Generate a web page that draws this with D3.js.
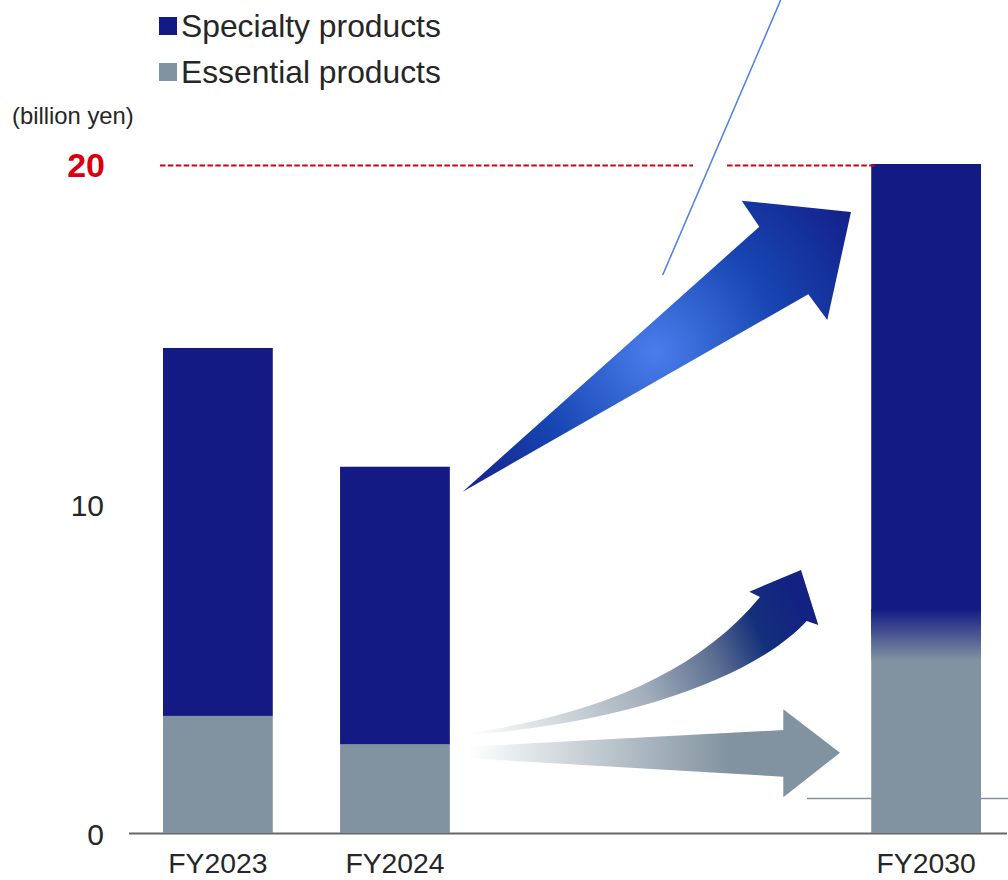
<!DOCTYPE html>
<html>
<head>
<meta charset="utf-8">
<script src="https://cdn.jsdelivr.net/npm/d3@7"></script>
<style>
  body { margin: 0; background: #fff; }
  svg { display: block; font-family: "Liberation Sans", Arial, sans-serif; }
</style>
</head>
<body>
<script>
// Chart values (billion yen)
const categories = ["FY2023", "FY2024", "FY2030"];
const slots = ["FY2023", "FY2024", "gap1", "gap2", "FY2030"];   // two empty slots before FY2030
const essential = [3.5, 2.65, 5.9];
const specialty = [11.0, 8.3, 14.1];
const yTicks = [0, 10];
const target = 20;
const seriesNames = ["Specialty products", "Essential products"];

const colSpecialty = "#131a83";
const colEssential = "#8193a0";
const textCol = "#262626";

const width = 1008, height = 880;

const svg = d3.select("body").append("svg")
    .attr("width", width)
    .attr("height", height);

const x = d3.scaleBand()
    .domain(slots)
    .range([163, 981])
    .paddingInner(0.38)
    .paddingOuter(0);

const y = d3.scaleLinear()
    .domain([0, 20])
    .range([833, 164]);

const defs = svg.append("defs");

// gradients
const gBig = defs.append("radialGradient")
    .attr("id", "gBig")
    .attr("gradientUnits", "userSpaceOnUse")
    .attr("cx", 655).attr("cy", 352).attr("r", 250);
gBig.append("stop").attr("offset", 0).attr("stop-color", "#4a7eec");
gBig.append("stop").attr("offset", 0.5).attr("stop-color", "#1746b2");
gBig.append("stop").attr("offset", 1).attr("stop-color", "#141c86");

const gCurve = defs.append("linearGradient")
    .attr("id", "gCurve")
    .attr("gradientUnits", "userSpaceOnUse")
    .attr("x1", 470).attr("y1", 735).attr("x2", 790).attr("y2", 590);
gCurve.append("stop").attr("offset", 0).attr("stop-color", "#ffffff");
gCurve.append("stop").attr("offset", 0.5).attr("stop-color", "#a3afbb");
gCurve.append("stop").attr("offset", 0.72).attr("stop-color", "#5d6f92");
gCurve.append("stop").attr("offset", 0.87).attr("stop-color", "#13307a");
gCurve.append("stop").attr("offset", 1).attr("stop-color", "#132282");

const gStraight = defs.append("linearGradient")
    .attr("id", "gStraight")
    .attr("gradientUnits", "userSpaceOnUse")
    .attr("x1", 468).attr("y1", 0).attr("x2", 730).attr("y2", 0);
gStraight.append("stop").attr("offset", 0).attr("stop-color", "#ffffff");
gStraight.append("stop").attr("offset", 1).attr("stop-color", colEssential);

const gBlend = defs.append("linearGradient")
    .attr("id", "gBlend")
    .attr("x1", 0).attr("y1", 0).attr("x2", 0).attr("y2", 1);
gBlend.append("stop").attr("offset", 0).attr("stop-color", colSpecialty);
gBlend.append("stop").attr("offset", 1).attr("stop-color", colEssential);

// baseline
svg.append("line")
    .attr("x1", 129).attr("x2", 1007)
    .attr("y1", y(0) + 0.5).attr("y2", y(0) + 0.5)
    .attr("stroke", "#666").attr("stroke-width", 2);

// stacked bars
const rows = categories.map((c, i) => ({ cat: c, ess: essential[i], spec: specialty[i] }));

svg.selectAll(".ess")
    .data(rows)
    .enter()
    .append("rect")
    .attr("class", "ess")
    .attr("x", d => x(d.cat))
    .attr("width", x.bandwidth())
    .attr("y", d => y(d.ess))
    .attr("height", d => y(0) - y(d.ess))
    .attr("fill", colEssential);

svg.selectAll(".spec")
    .data(rows)
    .enter()
    .append("rect")
    .attr("class", "spec")
    .attr("x", d => x(d.cat))
    .attr("width", x.bandwidth())
    .attr("y", d => y(d.ess + d.spec))
    .attr("height", d => y(d.ess) - y(d.ess + d.spec))
    .attr("fill", colSpecialty);

// FY2030 soft boundary between the two segments
const last = rows[2];
svg.append("rect")
    .attr("x", x(last.cat))
    .attr("width", x.bandwidth())
    .attr("y", y(last.ess + 0.8))
    .attr("height", y(last.ess - 0.75) - y(last.ess + 0.8))
    .attr("fill", "url(#gBlend)");

// target line
const ty = y(target) + 1.5;
svg.append("line")
    .attr("x1", 160).attr("x2", 693)
    .attr("y1", ty).attr("y2", ty)
    .attr("stroke", "#d7000f").attr("stroke-width", 2)
    .attr("stroke-dasharray", "5.5,2.4");
svg.append("line")
    .attr("x1", 727).attr("x2", 877)
    .attr("y1", ty).attr("y2", ty)
    .attr("stroke", "#d7000f").attr("stroke-width", 2)
    .attr("stroke-dasharray", "5.5,2.4");

// decorative arrows
svg.append("path")
    .attr("d", "M462.7,491.7 L759.3,226.7 L741.7,200.7 L851,212 L827.3,320 L808.3,294.3 Z")
    .attr("fill", "url(#gBig)");

svg.append("path")
    .attr("d", "M468,733 C600,715 700,670 760,597 L749.3,591.7 L801,570 L818.3,625 L806.7,621 C760,672 640,722 468,735 Z")
    .attr("fill", "url(#gCurve)");

svg.append("path")
    .attr("d", "M468,746.7 L783.3,730 L783.3,709.3 L840,752.7 L783.3,797.3 L783.3,776.7 L468,758.3 Z")
    .attr("fill", "url(#gStraight)");

// thin callout lines
svg.append("line")
    .attr("x1", 780.7).attr("y1", 0).attr("x2", 662.7).attr("y2", 275)
    .attr("stroke", "#4a7ee8").attr("stroke-width", 1.5);
svg.append("line")
    .attr("x1", 807).attr("y1", 798.5).attr("x2", 1008).attr("y2", 798.5)
    .attr("stroke", "#8193a0").attr("stroke-width", 1.5);

// y tick labels
svg.selectAll(".ytick")
    .data(yTicks)
    .enter()
    .append("text")
    .attr("class", "ytick")
    .attr("x", 104)
    .attr("y", d => y(d) + (d === 0 ? 12 : 17))
    .attr("text-anchor", "end")
    .attr("font-size", 30)
    .attr("fill", textCol)
    .text(d => d);

svg.append("text")
    .attr("x", 105)
    .attr("y", y(target) + 13)
    .attr("text-anchor", "end")
    .attr("font-size", 34)
    .attr("font-weight", "bold")
    .attr("fill", "#d7000f")
    .text(target);

svg.append("text")
    .attr("x", 12)
    .attr("y", 124)
    .attr("font-size", 23.8)
    .attr("fill", textCol)
    .text("(billion yen)");

// x labels
svg.selectAll(".xlab")
    .data(categories)
    .enter()
    .append("text")
    .attr("class", "xlab")
    .attr("x", d => x(d) + x.bandwidth() / 2)
    .attr("y", 873)
    .attr("text-anchor", "middle")
    .attr("font-size", 28.3)
    .attr("fill", textCol)
    .text(d => d);

// legend
const legend = svg.selectAll(".leg")
    .data(seriesNames)
    .enter()
    .append("g")
    .attr("class", "leg")
    .attr("transform", (d, i) => `translate(159,${17 + i * 46})`);
legend.append("rect")
    .attr("width", 18).attr("height", 18)
    .attr("fill", (d, i) => i === 0 ? colSpecialty : colEssential);
legend.append("text")
    .attr("x", 22)
    .attr("y", 20)
    .attr("font-size", 31.8)
    .attr("fill", textCol)
    .text(d => d);
</script>
</body>
</html>
